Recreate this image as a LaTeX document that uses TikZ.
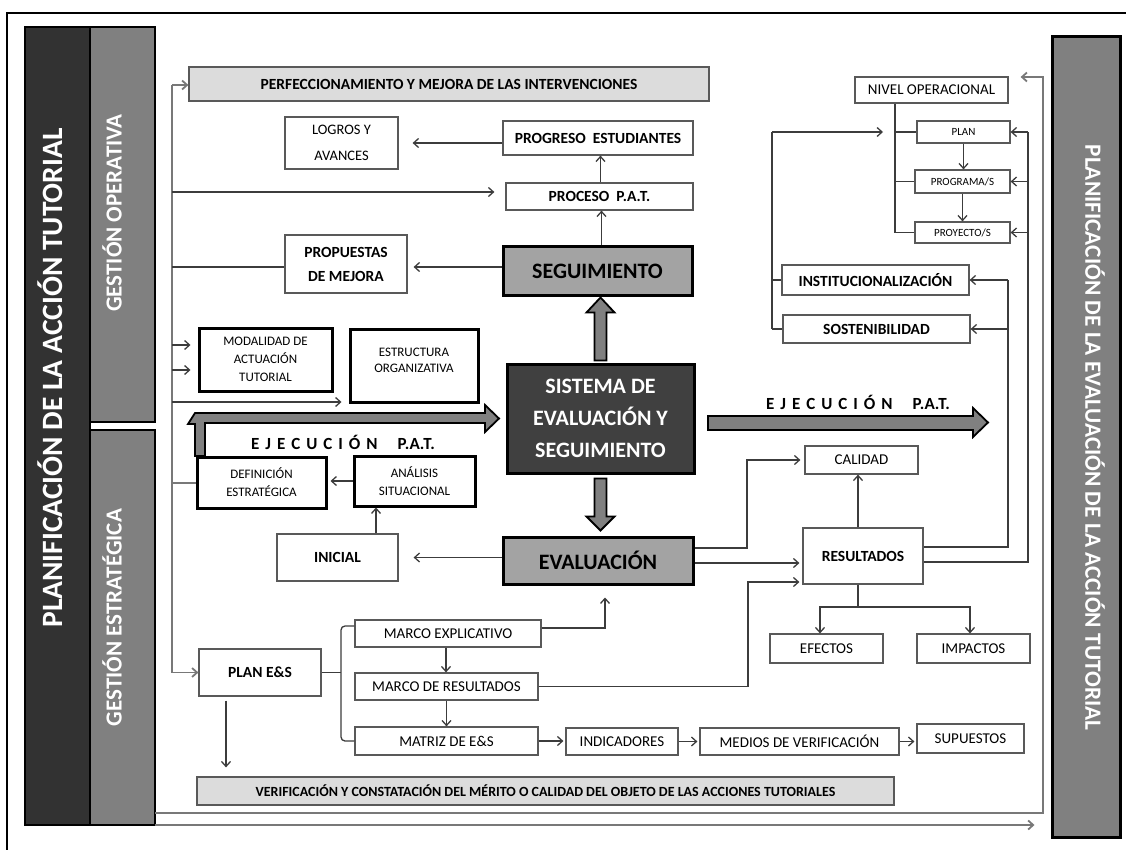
\documentclass[tikz,border=0pt]{standalone}
\usepackage{fontspec}
\setmainfont{Carlito}
\usetikzlibrary{arrows.meta,calc}
\newcommand\fsz[2]{\fontsize{#1}{#2}\selectfont}
\definecolor{bardark}{RGB}{50,50,50}
\definecolor{bargray}{RGB}{128,128,128}
\definecolor{boxgray}{RGB}{163,163,163}
\definecolor{lightfill}{RGB}{220,220,220}
\definecolor{sysdark}{RGB}{64,64,64}
\definecolor{linecol}{RGB}{60,60,60}
\definecolor{trunkcol}{RGB}{120,120,120}
\tikzset{
  box/.style={draw=black!65, line width=1.2pt, fill=white, align=center, inner sep=1pt, font=\fsz{15}{22}},
  bbox/.style={box, font=\fsz{15.5}{24}\bfseries},
  pbox/.style={box, fill=lightfill, font=\fsz{15.5}{18}\bfseries},
  tbox/.style={draw=black, line width=3pt, fill=white, align=center, inner sep=1pt, font=\fsz{13}{18}},
  gbox/.style={draw=black, line width=3pt, fill=boxgray, align=center, font=\fsz{22}{26}\bfseries},
  bar/.style={draw=black, line width=2.5pt},
  bartext/.style={text=white, font=\bfseries, inner sep=0pt},
  line/.style={draw=linecol, line width=1.3pt},
  arr/.style={line, -{Straight Barb[length=5pt,width=9pt]}},
  gline/.style={draw=trunkcol, line width=1.8pt},
  garr/.style={gline, -{Straight Barb[length=5pt,width=9pt]}},
  fat/.style={fill=bargray, draw=black, line width=1.8pt, line join=miter},
  ejec/.style={font=\fsz{17}{20}\bfseries, inner sep=0pt}
}
\newcommand\spaced[1]{\def\sp{\hspace{6pt}}#1}
\begin{document}
\begin{tikzpicture}[x=1pt,y=-1pt]
\useasboundingbox (0,0) rectangle (1126,850);
% frame
\draw[line width=1.2pt] (7,850) -- (7,13) -- (1126,13);

% side bars
\node[bar, fill=bardark, minimum width=65pt, minimum height=798pt] (pat) at (57.5,426) {};
\node[bar, fill=bargray, minimum width=65pt, minimum height=395pt] (gop) at (122.5,224.5) {};
\node[bar, fill=bargray, minimum width=65pt, minimum height=395pt] (gest) at (122.5,627.5) {};
\node[bar, line width=3pt, fill=bargray, minimum width=68pt, minimum height=800pt] (pevat) at (1086,437) {};
\node[bartext, rotate=90, font=\fsz{29.5}{30}\bfseries] (tpat) at (50,378) {PLANIFICACIÓN DE LA ACCIÓN TUTORIAL};
\node[bartext, rotate=90, font=\fsz{23}{24}\bfseries] (tgop) at (112,213) {GESTIÓN OPERATIVA};
\node[bartext, rotate=90, font=\fsz{23}{24}\bfseries] (tgest) at (112,617.5) {GESTIÓN ESTRATÉGICA};
\node[bartext, rotate=-90, font=\fsz{23.3}{24}\bfseries] (tpev) at (1095,437.5) {PLANIFICACIÓN DE LA EVALUACIÓN DE LA ACCIÓN TUTORIAL};

% top / left boxes
\node[pbox, minimum width=520pt, minimum height=34pt] (perf) at (449,84) {PERFECCIONAMIENTO Y MEJORA DE LAS INTERVENCIONES};
\node[box, font=\fsz{14.5}{26}, minimum width=113pt, minimum height=52pt] (logros) at (341.5,143) {LOGROS Y\\AVANCES};
\node[bbox, minimum width=190pt, minimum height=34pt] (progreso) at (598,138) {PROGRESO\ \ ESTUDIANTES};
\node[bbox, minimum width=187pt, minimum height=27pt] (proceso) at (599.5,196.5) {PROCESO\ \ P.A.T.};
\node[bbox, minimum width=122pt, minimum height=58pt] (propuestas) at (346,264) {PROPUESTAS\\DE MEJORA};
\node[gbox, minimum width=189pt, minimum height=48pt] (seguimiento) at (597.5,271) {SEGUIMIENTO};
\node[tbox, minimum width=133pt, minimum height=63pt] (modalidad) at (265.5,359.5) {MODALIDAD DE\\ACTUACIÓN\\TUTORIAL};
\node[tbox, minimum width=128pt, minimum height=73pt] (estructura) at (414,365.5) {};
\node[font=\fsz{13}{16}, align=center, inner sep=0pt] (testr) at (414,360) {ESTRUCTURA\\ORGANIZATIVA};
\node[draw=black, line width=3pt, fill=sysdark, text=white, align=center, font=\fsz{22}{32}\bfseries, minimum width=187pt, minimum height=109pt] (sistema) at (600.5,418.5) {SISTEMA DE\\EVALUACIÓN Y\\SEGUIMIENTO};
\node[tbox, minimum width=129pt, minimum height=51pt] (definicion) at (261.5,482.5) {DEFINICIÓN\\ESTRATÉGICA};
\node[tbox, minimum width=121pt, minimum height=50pt] (analisis) at (414.5,481) {ANÁLISIS\\SITUACIONAL};
\node[bbox, minimum width=121pt, minimum height=47pt] (inicial) at (337.5,557.5) {INICIAL};
\node[gbox, minimum width=190pt, minimum height=47pt] (evaluacion) at (598,560.5) {EVALUACIÓN};

% right boxes
\node[box, minimum width=113pt, minimum height=28pt] (calidad) at (861.5,460) {CALIDAD};
\node[bbox, minimum width=120pt, minimum height=56pt] (resultados) at (863,556) {RESULTADOS};
\node[box, minimum width=113pt, minimum height=29pt] (efectos) at (826.5,648.5) {EFECTOS};
\node[box, minimum width=113pt, minimum height=29pt] (impactos) at (973.5,648.5) {IMPACTOS};
\node[box, minimum width=153pt, minimum height=26pt] (nivel) at (931.5,90) {NIVEL OPERACIONAL};
\node[box, font=\fsz{11}{13}, minimum width=93pt, minimum height=22pt] (plan) at (963.5,132) {PLAN};
\node[box, font=\fsz{11}{13}, minimum width=95pt, minimum height=23pt] (programa) at (962.5,181.5) {PROGRAMA/S};
\node[box, font=\fsz{11}{13}, minimum width=95pt, minimum height=21pt] (proyecto) at (962.5,232.5) {PROYECTO/S};
\node[bbox, minimum width=187pt, minimum height=30pt] (instit) at (875.5,280) {INSTITUCIONALIZACIÓN};
\node[bbox, minimum width=187pt, minimum height=28pt] (sosten) at (876.5,329) {SOSTENIBILIDAD};

% bottom boxes
\node[bbox, minimum width=122pt, minimum height=47pt] (planes) at (260,672.5) {PLAN E\&S};
\node[box, minimum width=186pt, minimum height=27pt] (marcoexp) at (448,633.5) {MARCO EXPLICATIVO};
\node[box, minimum width=183pt, minimum height=27pt] (marcores) at (446.5,686.5) {MARCO DE RESULTADOS};
\node[box, minimum width=183pt, minimum height=28pt] (matriz) at (446.5,741) {MATRIZ DE E\&S};
\node[box, minimum width=112pt, minimum height=27pt] (indicadores) at (622,741.5) {INDICADORES};
\node[box, minimum width=199pt, minimum height=27pt] (medios) at (799.5,741.5) {MEDIOS DE VERIFICACIÓN};
\node[box, minimum width=107pt, minimum height=29pt] (supuestos) at (970.5,738.5) {SUPUESTOS};
\node[pbox, font=\fsz{14}{16}\bfseries, minimum width=697pt, minimum height=28pt] (verif) at (545.5,791) {VERIFICACIÓN Y CONSTATACIÓN DEL MÉRITO O CALIDAD DEL OBJETO DE LAS ACCIONES TUTORIALES};

% fat arrows
\filldraw[fat] ($(sistema.north)+(-6,-2)$) -- ++(0,-48) -- ++(-8,0) -- ++(14,-15) -- ++(14,15) -- ++(-8,0) -- ++(0,48) -- cycle;
\filldraw[fat] ($(sistema.south)+(-6,4)$) -- ++(0,38) -- ++(-8,0) -- ++(14,14) -- ++(14,-14) -- ++(-8,0) -- ++(0,-38) -- cycle;
\filldraw[fat] (188,424) -- (195,413) -- (485,413) -- (485,405) -- (499,418.5) -- (485,432) -- (485,423) -- (205,423) -- (205,456) -- (195,456) -- (195,424) -- cycle;
\filldraw[fat] (708,416) -- (973,416) -- (973,408) -- (988,422.5) -- (973,437) -- (973,430) -- (708,430) -- cycle;
\node[ejec] (ejl) at (343,442) {E\hspace{6pt}J\hspace{6pt}E\hspace{6pt}C\hspace{6pt}U\hspace{6pt}C\hspace{6pt}I\hspace{6pt}Ó\hspace{6pt}N\hspace{20pt}P.A.T.};
\node[ejec] (ejr) at (858,402) {E\hspace{6pt}J\hspace{6pt}E\hspace{6pt}C\hspace{6pt}U\hspace{6pt}C\hspace{6pt}I\hspace{6pt}Ó\hspace{6pt}N\hspace{20pt}P.A.T.};

% left trunk
\coordinate (t0) at (172,85);
\coordinate (t1) at (172,192);
\coordinate (t2) at (172,267);
\coordinate (t3) at (172,345);
\coordinate (t4) at (172,370);
\coordinate (t5) at (172,402);
\coordinate (t6) at (172,483);
\coordinate (t7) at (172,672.5);
\draw[gline] (t0) -- (t7);
\draw[garr] (t0) -- (t0 -| perf.west);
\draw[arr, shorten >=11pt] (t1) -- (t1 -| proceso.west);
\draw[line] (t2) -- (t2 -| propuestas.west);
\draw[arr, shorten >=7pt] (t3) -- (t3 -| modalidad.west);
\draw[arr, shorten >=7pt] (t4) -- (t4 -| modalidad.west);
\draw[arr, shorten >=7pt] (t5) -- (t5 -| estructura.west);
\draw[gline] (t6) -- (t6 -| definicion.west);
\draw[garr] (t7) -- (planes.west);

% bottom long lines
\coordinate (b1) at (155,813);
\coordinate (r1) at (1043,813);
\coordinate (r1t) at (1043,77);
\draw[garr, shorten >=12pt] (b1) -- (r1) -- (r1t) -- (r1t -| nivel.east);
\coordinate (b2) at (155,825);
\draw[garr, shorten >=16pt] (b2) -- (b2 -| pevat.west);

% seguimiento block
\draw[arr] ([xshift=4pt]seguimiento.north) -- ([xshift=4pt]seguimiento.north |- proceso.south);
\draw[arr] ([xshift=1pt]proceso.north) -- ([xshift=1pt]proceso.north |- progreso.south);
\draw[arr, shorten >=14pt] ([yshift=-5pt]progreso.west) -- ([yshift=-5pt]progreso.west -| logros.east);
\draw[arr, shorten >=6pt] ([yshift=4pt]seguimiento.west) -- ([yshift=4pt]seguimiento.west -| propuestas.east);

% evaluacion block
\draw[arr, shorten >=15pt] ([yshift=3pt]evaluacion.west) -- ([yshift=3pt]evaluacion.west -| inicial.east);
\draw[arr] ([xshift=38.5pt]inicial.north) -- ([xshift=38.5pt]inicial.north |- analisis.south);
\draw[arr, shorten >=3pt] (analisis.west) -- (analisis.west -| definicion.east);
\coordinate (ec) at (747,548);
\draw[arr, shorten >=4pt] ([yshift=12.5pt]evaluacion.east) -- (ec) |- (calidad.west);
\draw[arr, shorten >=3pt] ([yshift=-2.5pt]evaluacion.east) -- ([yshift=-2.5pt]evaluacion.east -| resultados.west);
\coordinate (mr) at (748,686.5);
\draw[arr, shorten >=3pt] (marcores.east) -- (mr) |- ([yshift=-26pt]resultados.west);
\draw[arr] ([xshift=-5pt]resultados.north) -- ([xshift=-5pt]resultados.north |- calidad.south);
\coordinate (rj) at (858,607);
\draw[line] ([xshift=-5pt]resultados.south) -- (rj);
\draw[arr] (rj) -| ([xshift=-6.5pt]efectos.north);
\draw[arr] (rj) -| ([xshift=-3.5pt]impactos.north);

% right side verticals
\coordinate (v1t) at (1028,132);
\coordinate (v1b) at (1028,562);
\draw[line] ([yshift=-6pt]resultados.east) -- (v1b) -- (v1t);
\draw[arr] (v1t) -- (plan.east);
\draw[arr] (v1t |- programa.east) -- (programa.east);
\draw[arr] (v1t |- proyecto.east) -- (proyecto.east);
\coordinate (v2t) at (1008,280);
\coordinate (v2b) at (1008,547);
\draw[line] ([yshift=9pt]resultados.east) -- (v2b) -- (v2t);
\draw[arr] (v2t) -- (instit.east);
\draw[arr] (v2t |- sosten.east) -- (sosten.east);

% left bracket of nivel
\coordinate (w1t) at (772,132);
\coordinate (w1b) at (772,329);
\coordinate (ntb) at (895,232.5);
\draw[line] (w1b) -- (w1t);
\draw[arr, shorten >=12pt] (w1t) -- (w1t -| ntb);
\draw[line] (w1t |- instit.west) -- (instit.west);
\draw[line] (w1b) -- (sosten.west);
\draw[line] (nivel.south -| ntb) -- (ntb) -- (proyecto.west);
\draw[line] (ntb |- plan.west) -- (plan.west);
\draw[line] (ntb |- programa.west) -- (programa.west);
\draw[arr] (plan.south) -- (plan.south |- programa.north);
\draw[arr] (programa.south) -- (programa.south |- proyecto.north);

% plan E&S block
\coordinate (bk) at (341,672.5);
\draw[line] (planes.east) -- (bk);
\draw[line, rounded corners=4pt] ([yshift=7.5pt]marcoexp.west) -| (bk) |- (matriz.west);
\draw[arr] ([xshift=-2pt]marcoexp.south) -- ([xshift=-2pt]marcoexp.south |- marcores.north);
\draw[arr] (marcores.south) -- (matriz.north);
\draw[arr, shorten >=12pt] ([yshift=5.5pt]marcoexp.east) -| ([xshift=7pt]evaluacion.south);
\draw[arr, shorten >=2pt] (matriz.east) -- (matriz.east -| indicadores.west);
\draw[arr, shorten >=2pt] (indicadores.east) -- (indicadores.east -| medios.west);
\draw[arr, shorten >=2pt] (medios.east) -- (medios.east -| supuestos.west);
\draw[arr, shorten <=4pt, shorten >=9pt] ([xshift=-34pt]planes.south) -- ([xshift=-34pt]planes.south |- verif.north);
\end{tikzpicture}
\end{document}
